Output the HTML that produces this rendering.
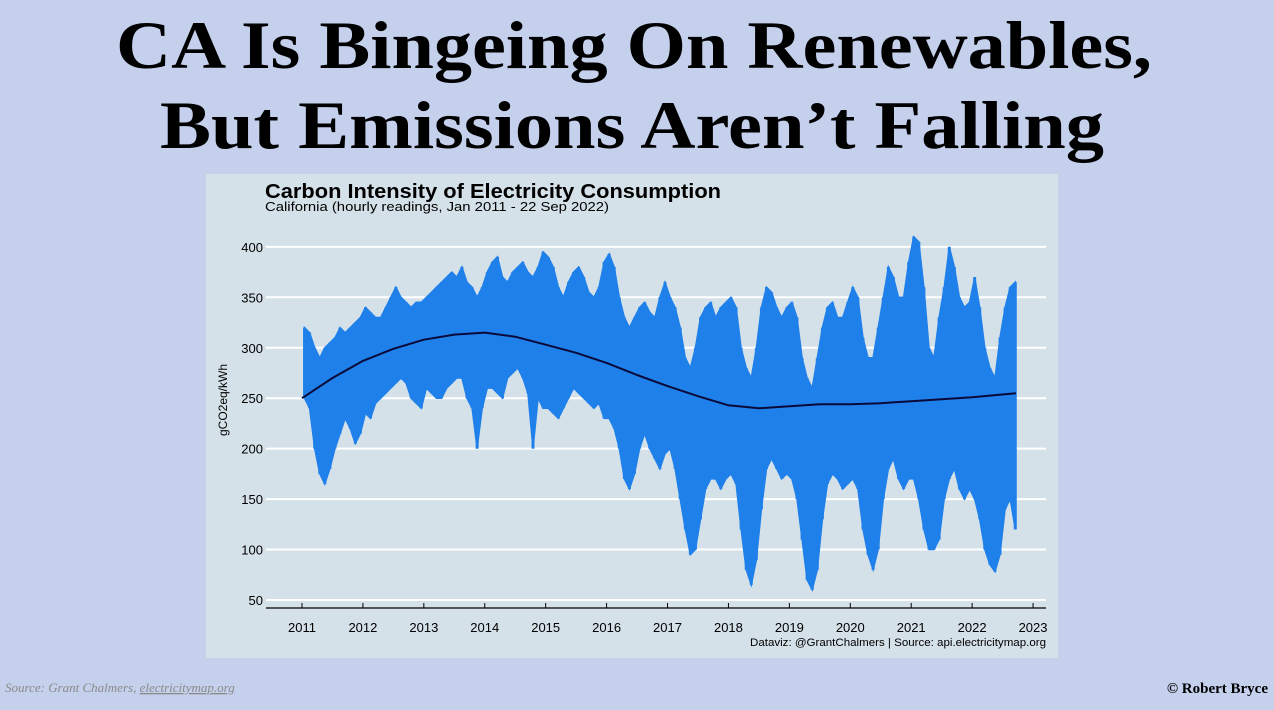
<!DOCTYPE html>
<html><head><meta charset="utf-8"><style>
html,body{margin:0;padding:0;background:#c4d0ec;}
svg{display:block;}
</style></head><body>
<svg id="root" width="1274" height="710" viewBox="0 0 1274 710" xmlns="http://www.w3.org/2000/svg">
<rect x="0" y="0" width="1274" height="710" fill="#c4d0ec"/>
<text x="634" y="68" text-anchor="middle" font-family="Liberation Serif, serif" font-weight="bold" font-size="68" textLength="1036" lengthAdjust="spacingAndGlyphs" fill="#000">CA Is Bingeing On Renewables,</text>
<text x="632" y="148" text-anchor="middle" font-family="Liberation Serif, serif" font-weight="bold" font-size="68" textLength="944" lengthAdjust="spacingAndGlyphs" fill="#000">But Emissions Aren’t Falling</text>
<rect x="206" y="174" width="852" height="484" fill="#d5e1e9"/>
<text x="265" y="198" font-family="Liberation Sans, sans-serif" font-weight="bold" font-size="20" textLength="456" lengthAdjust="spacingAndGlyphs" fill="#000">Carbon Intensity of Electricity Consumption</text>
<text x="265" y="211" font-family="Liberation Sans, sans-serif" font-size="13" textLength="344" lengthAdjust="spacingAndGlyphs" fill="#000">California (hourly readings, Jan 2011 - 22 Sep 2022)</text>
<g id="grid"></g>
<g id="series"></g>
<g id="axes"></g>
<text transform="translate(227,400) rotate(-90)" text-anchor="middle" font-family="Liberation Sans, sans-serif" font-size="12" fill="#000">gCO2eq/kWh</text>
<text x="1046" y="646" text-anchor="end" font-family="Liberation Sans, sans-serif" font-size="11" textLength="296" lengthAdjust="spacingAndGlyphs" fill="#000">Dataviz: @GrantChalmers | Source: api.electricitymap.org</text>
<text x="5" y="692" font-family="Liberation Serif, serif" font-style="italic" font-size="13" fill="#8a8a8a">Source: Grant Chalmers, <tspan text-decoration="underline">electricitymap.org</tspan></text>
<text x="1268" y="693" text-anchor="end" font-family="Liberation Serif, serif" font-weight="bold" font-size="15" fill="#000">© Robert Bryce</text>
</svg>
<script>
const yTicks=[50,100,150,200,250,300,350,400];
const xTicks=[2011,2012,2013,2014,2015,2016,2017,2018,2019,2020,2021,2022,2023];
const monthlyLow=[250,240,200,175,165,180,200,215,230,220,205,215,
235,230,245,250,255,260,265,270,265,250,245,240,
260,255,250,250,260,265,270,270,250,240,200,240,
260,260,255,250,270,275,280,270,255,200,250,240,
240,235,230,240,250,260,255,250,245,240,245,230,
230,220,200,170,160,175,200,215,200,190,180,195,
200,180,150,120,95,100,130,160,170,170,160,170,
175,165,120,80,65,90,140,180,190,180,170,175,
170,150,110,70,60,80,130,165,175,170,160,165,
170,160,120,95,80,100,150,180,190,170,160,170,
170,150,120,100,100,110,150,170,180,160,150,160,
150,130,100,85,78,95,140,150,120];
const monthlyHigh=[320,315,300,290,300,305,310,320,315,320,325,330,
340,335,330,330,340,350,360,350,345,340,345,345,
350,355,360,365,370,375,370,380,365,360,350,360,
375,385,390,370,365,375,380,385,375,370,380,395,
390,380,360,350,365,375,380,370,355,350,360,385,
393,380,350,330,320,330,340,345,335,330,350,365,
350,340,320,290,280,300,330,340,345,330,340,345,
350,340,300,280,270,300,340,360,355,340,330,340,
345,330,290,270,260,290,320,340,345,330,330,345,
360,350,310,290,290,320,350,380,370,350,350,385,
410,405,360,300,290,330,360,400,380,350,340,345,
370,340,300,280,270,310,340,360,365];
const trendYears=[2011,2011.5,2012,2012.5,2013,2013.5,2014,2014.5,2015,2015.5,2016,2016.5,2017,2017.5,2018,2018.5,2019,2019.5,2020,2020.5,2021,2021.5,2022,2022.72];
const trendValues=[250,270,287,299,308,313,315,311,303,295,285,273,262,252,243,240,242,244,244,245,247,249,251,255];
(function(){
const NS="http://www.w3.org/2000/svg";
const X=t=>302+(t-2011)*60.92;
const Y=v=>600-(v-50)*1.009;
function mk(tag,attrs,parent){const e=document.createElementNS(NS,tag);for(const k in attrs)e.setAttribute(k,attrs[k]);parent.appendChild(e);return e;}
const grid=document.getElementById('grid'),series=document.getElementById('series'),axes=document.getElementById('axes');
yTicks.forEach(v=>{
  const l=mk('line',{x1:266,x2:1046,y1:Y(v),y2:Y(v),stroke:'#fff','stroke-width':2},grid);
  
  
  const t=mk('text',{x:263,y:Y(v)+5,'text-anchor':'end','font-family':'Liberation Sans, sans-serif','font-size':13,fill:'#000'},axes);
  t.textContent=v;
  
  
});
const ax=mk('line',{x1:266,x2:1046,y1:608,y2:608,stroke:'#000','stroke-width':1.2},axes);


xTicks.forEach(yr=>{
  const tk=mk('line',{x1:X(yr),x2:X(yr),y1:603,y2:608,stroke:'#000','stroke-width':1},axes);
  
  
  const t=mk('text',{x:X(yr),y:632,'text-anchor':'middle','font-family':'Liberation Sans, sans-serif','font-size':13,fill:'#000'},axes);
  t.textContent=yr;
  
  
});
let upper='',lower='';
const n=monthlyHigh.length;
for(let i=0;i<n;i++){
  const t=2011+(i+0.5)/12;
  upper+=(i?'L':'M')+X(t).toFixed(1)+','+Y(monthlyHigh[i]).toFixed(1);
}
for(let i=n-1;i>=0;i--){
  const t=2011+(i+0.5)/12;
  lower+='L'+X(t).toFixed(1)+','+Y(monthlyLow[i]).toFixed(1);
}
const band=mk('path',{d:upper+lower+'Z',fill:'#1f80ea',stroke:'#1f80ea','stroke-width':1.5},series);


for(let i=0;i<n;i++){
  const t=2011+(i+0.5)/12;
  const s=mk('line',{x1:X(t),x2:X(t),y1:Y(monthlyHigh[i]),y2:Y(monthlyLow[i]),stroke:'#1f80ea','stroke-width':3},series);
  
  
}
let d='';
trendYears.forEach((yr,i)=>{d+=(i?'L':'M')+X(yr).toFixed(1)+','+Y(trendValues[i]).toFixed(1);});
const tr=mk('path',{d:d,fill:'none',stroke:'#0a0a3a','stroke-width':2,'stroke-linejoin':'round'},series);


})();
</script>
</body></html>
